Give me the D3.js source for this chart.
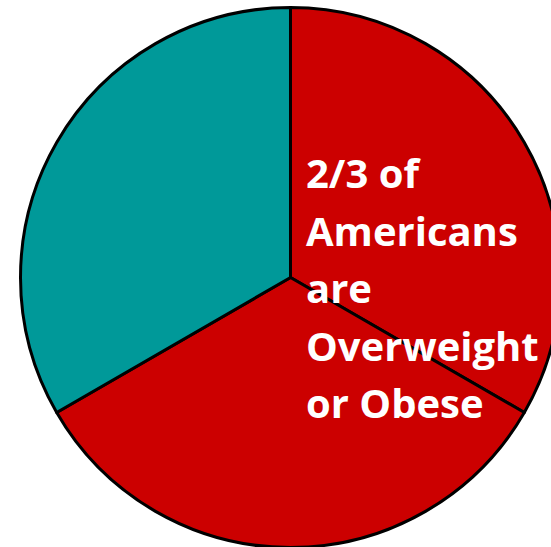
<!DOCTYPE html>
<html><head><meta charset="utf-8">
<script src="https://cdn.jsdelivr.net/npm/d3@7"></script>
<style>body{margin:0;background:#fff;}svg{display:block;}</style>
</head><body>
<svg id="c" width="551" height="547"></svg>
<script>
const categories = ["Overweight", "Obese", "Neither"];
const values = [1, 1, 1];
const colors = ["#CC0000", "#CC0000", "#009999"];
const labelLines = ["2/3 of", "Americans", "are", "Overweight", "or Obese"];

const svg = d3.select("#c");
const cx = 290.5, cy = 277.5, r = 270;
const g = svg.append("g").attr("transform", `translate(${cx},${cy})`);
const pie = d3.pie().sort(null).value(d => d.v);
const arc = d3.arc().innerRadius(0).outerRadius(r);
const data = categories.map((c, i) => ({c, v: values[i], col: colors[i]}));
g.selectAll("path").data(pie(data)).join("path")
  .attr("d", arc).attr("fill", d => d.data.col)
  .attr("stroke", "#000").attr("stroke-width", 3).attr("stroke-linejoin", "round");

const t = svg.append("text").attr("fill", "#fff")
  .attr("font-family", "'Open Sans', sans-serif").attr("font-weight", "bold")
  .attr("font-size", 40);
labelLines.forEach((s, i) => {
  t.append("tspan").attr("x", 306).attr("y", 188 + i * 57.5).text(s);
});
</script>
</body></html>
